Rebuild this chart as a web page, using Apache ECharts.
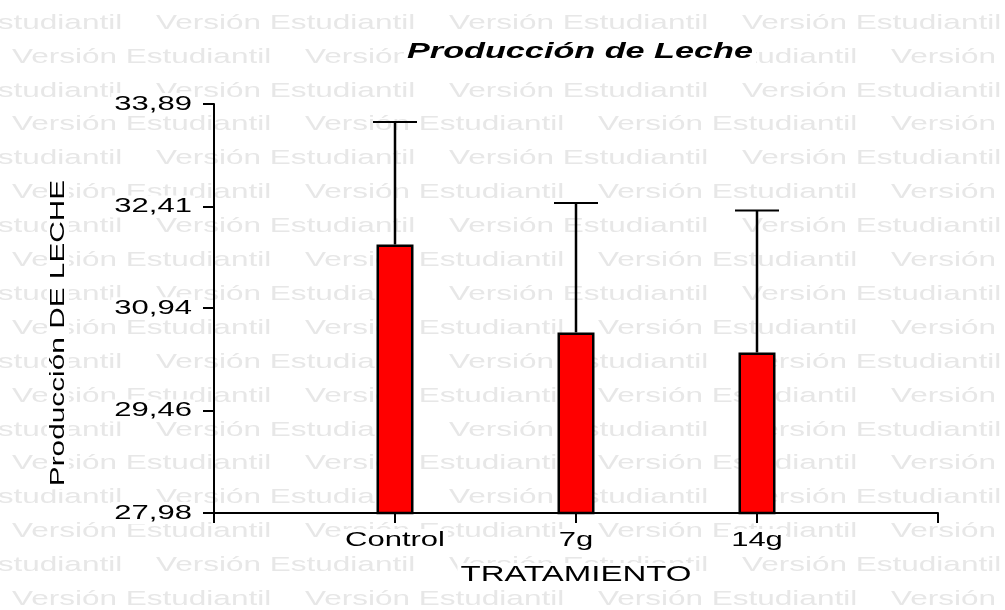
<!DOCTYPE html>
<html>
<head>
<meta charset="utf-8">
<title>Producción de Leche</title>
<script src="https://cdn.jsdelivr.net/npm/echarts@6/dist/echarts.min.js"></script>
<style>
  html, body { margin: 0; padding: 0; background: #fff; }
  #main { width: 1005px; height: 610px; }
</style>
</head>
<body>
<div id="main"></div>
<script>
// datos
var categories = ['Control', '7g', '14g'];
var means = [31.86, 30.59, 30.30];
var upper = [33.63, 32.46, 32.35];
var yTicks = [27.98, 29.46, 30.94, 32.41, 33.89];

var FONT = '"Liberation Sans", Arial, Helvetica, sans-serif';
var WIDE = 1.55;   // el texto del original sale estirado a lo ancho
var MARCA = 'Versión Estudiantil';

var chart = echarts.init(document.getElementById('main'), null, { renderer: 'canvas' });

var axisData = [''].concat(categories, ['']);
var barData = ['-'].concat(means, ['-']);
var errData = categories.map(function (c, i) {
  return [i + 1, means[i], upper[i]];
});

chart.setOption({
  animation: false,
  backgroundColor: '#fff',
  grid: { left: 214, right: 67, top: 104, bottom: 97 },
  xAxis: {
    type: 'category',
    data: axisData,
    boundaryGap: false,
    axisLine: { onZero: false, lineStyle: { color: '#000', width: 2 } },
    axisTick: { interval: 0, length: 10, lineStyle: { color: '#000', width: 2 } },
    axisLabel: { show: false },
    splitLine: { show: false }
  },
  yAxis: {
    type: 'value',
    min: yTicks[0],
    max: yTicks[yTicks.length - 1],
    axisLine: { show: true, lineStyle: { color: '#000', width: 2 } },
    axisTick: { show: true, length: 11, customValues: yTicks, lineStyle: { color: '#000', width: 2 } },
    axisLabel: { show: false },
    splitLine: { show: false }
  },
  series: [
    {
      type: 'bar',
      data: barData,
      barWidth: 37,
      z: 2,
      itemStyle: { color: '#ff0000', borderColor: '#000', borderWidth: 2.5 }
    },
    {
      type: 'custom',
      data: errData,
      z: 3,
      renderItem: function (params, api) {
        var base = api.coord([api.value(0), api.value(1)]);
        var top = api.coord([api.value(0), api.value(2)]);
        var half = 22;
        return {
          type: 'group',
          children: [
            { type: 'line', shape: { x1: top[0], y1: base[1], x2: top[0], y2: top[1] },
              style: { stroke: '#000', lineWidth: 2.5 } },
            { type: 'line', shape: { x1: top[0] - half, y1: top[1], x2: top[0] + half, y2: top[1] },
              style: { stroke: '#000', lineWidth: 2 } }
          ]
        };
      }
    }
  ]
});

// texto con fondo blanco, estirado como en el original
function texto(txt, x, y, o) {
  o = o || {};
  return {
    type: 'text', x: x, y: y, z: 50, silent: true,
    scaleX: o.scaleX || WIDE,
    rotation: o.rotation || 0,
    style: {
      text: txt,
      fontFamily: FONT,
      fontSize: o.size || 20,
      fontWeight: o.weight || 'normal',
      fontStyle: o.style || 'normal',
      fill: '#000',
      align: o.align || 'center', textAlign: o.align || 'center',
      verticalAlign: 'middle', textVerticalAlign: 'middle',
      backgroundColor: '#fff',
      padding: [1, 2]
    }
  };
}

var els = [];

// marca de agua de fondo
for (var k = 0; k < 18; k++) {
  var wy = 23 + 33.9 * k;
  var x0 = (k % 2 === 0) ? -137 : 12;
  for (var wx = x0; wx < 1005; wx += 293) {
    els.push({
      type: 'text', x: wx, y: wy, z: -1, silent: true, scaleX: 1.5,
      style: {
        text: MARCA, fontFamily: FONT, fontSize: 21, fill: '#e7e7e7',
        align: 'left', textAlign: 'left', verticalAlign: 'middle', textVerticalAlign: 'middle'
      }
    });
  }
}

var axisX = chart.convertToPixel({ xAxisIndex: 0 }, 0);
var axisY = chart.convertToPixel({ yAxisIndex: 0 }, yTicks[0]);
var axisEnd = chart.convertToPixel({ xAxisIndex: 0 }, axisData.length - 1);

yTicks.forEach(function (v) {
  var py = chart.convertToPixel({ yAxisIndex: 0 }, v);
  els.push(texto(v.toFixed(2).replace('.', ','), axisX - 19, py, { align: 'right' }));
});

categories.forEach(function (c, i) {
  var px = chart.convertToPixel({ xAxisIndex: 0 }, i + 1);
  els.push(texto(c, px, axisY + 27));
});

els.push(texto('TRATAMIENTO', (axisX + axisEnd) / 2, 575, { size: 22, scaleX: 1.5 }));
els.push(texto('Producción DE LECHE', 58, 333, { rotation: Math.PI / 2, scaleX: 1.49 }));
els.push(texto('Producción de Leche', 580, 52, { size: 22, weight: 'bold', style: 'italic', scaleX: 1.555 }));

chart.setOption({ graphic: { elements: els } });
</script>
</body>
</html>
